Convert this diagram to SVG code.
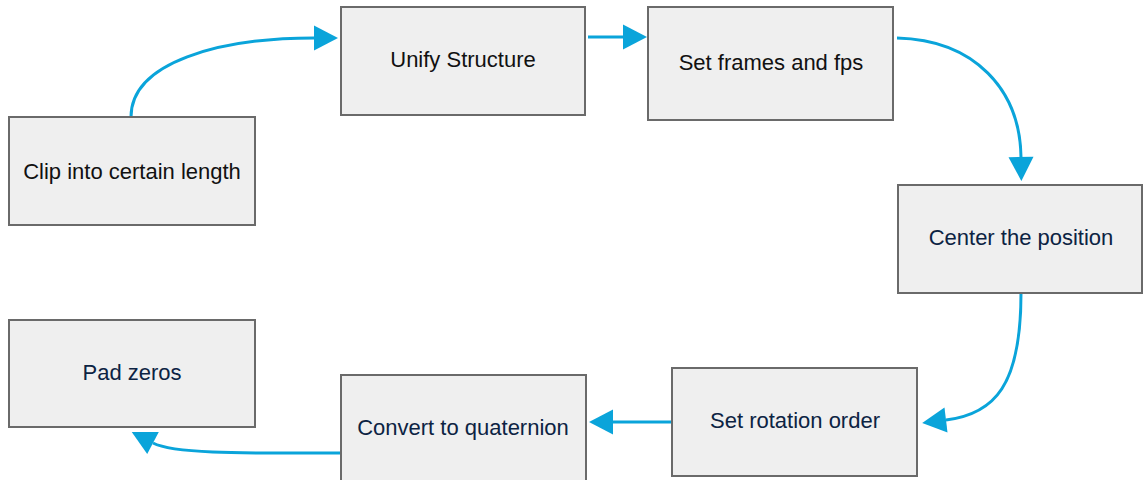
<svg xmlns="http://www.w3.org/2000/svg" width="1143" height="480" viewBox="0 0 1143 480">
  <style>
    .box { fill: #efefef; stroke: #6a6a6a; stroke-width: 2; }
    .label { font-family: "Liberation Sans", Arial, sans-serif; font-size: 22px; text-anchor: middle; }
    .dark { fill: #111111; }
    .navy { fill: #0c2343; }
    .flow { fill: none; stroke: #0aa4da; stroke-width: 3; marker-end: url(#head); }
  </style>
  <defs>
    <marker id="head" markerUnits="userSpaceOnUse" markerWidth="26" markerHeight="26" refX="0" refY="12.5" orient="auto" overflow="visible">
      <path d="M0,0 L24,12.5 L0,25 Z" fill="#0aa4da"/>
    </marker>
  </defs>

  <rect width="1143" height="480" fill="#ffffff"/>

  <g id="connectors">
    <path class="flow" d="M131,117 C131,62 220,38 314,38"/>
    <path class="flow" d="M588,37 L623,37"/>
    <path class="flow" d="M897,38 C975,40 1020,90 1021,157"/>
    <path class="flow" d="M1021,293 C1021,385 995,414 946,420"/>
    <path class="flow" d="M672,422 L613,422"/>
    <path class="flow" d="M340,453 C260,453 176,455 153,443"/>
  </g>

  <g id="clip">
    <rect class="box" x="9" y="117" width="246" height="108"/>
    <text class="label dark" x="132" y="179">Clip into certain length</text>
  </g>
  <g id="unify">
    <rect class="box" x="341" y="7" width="244" height="108"/>
    <text class="label dark" x="463" y="67">Unify Structure</text>
  </g>
  <g id="frames">
    <rect class="box" x="648" y="7" width="245" height="113"/>
    <text class="label dark" x="771" y="70">Set frames and fps</text>
  </g>
  <g id="center">
    <rect class="box" x="898" y="185" width="244" height="108"/>
    <text class="label navy" x="1021" y="245">Center the position</text>
  </g>
  <g id="rotation">
    <rect class="box" x="672" y="368" width="245" height="108"/>
    <text class="label navy" x="795" y="428">Set rotation order</text>
  </g>
  <g id="quaternion">
    <rect class="box" x="341" y="375" width="245" height="110"/>
    <text class="label navy" x="463" y="435">Convert to quaternion</text>
  </g>
  <g id="pad">
    <rect class="box" x="9" y="320" width="246" height="107"/>
    <text class="label navy" x="132" y="380">Pad zeros</text>
  </g>
</svg>
